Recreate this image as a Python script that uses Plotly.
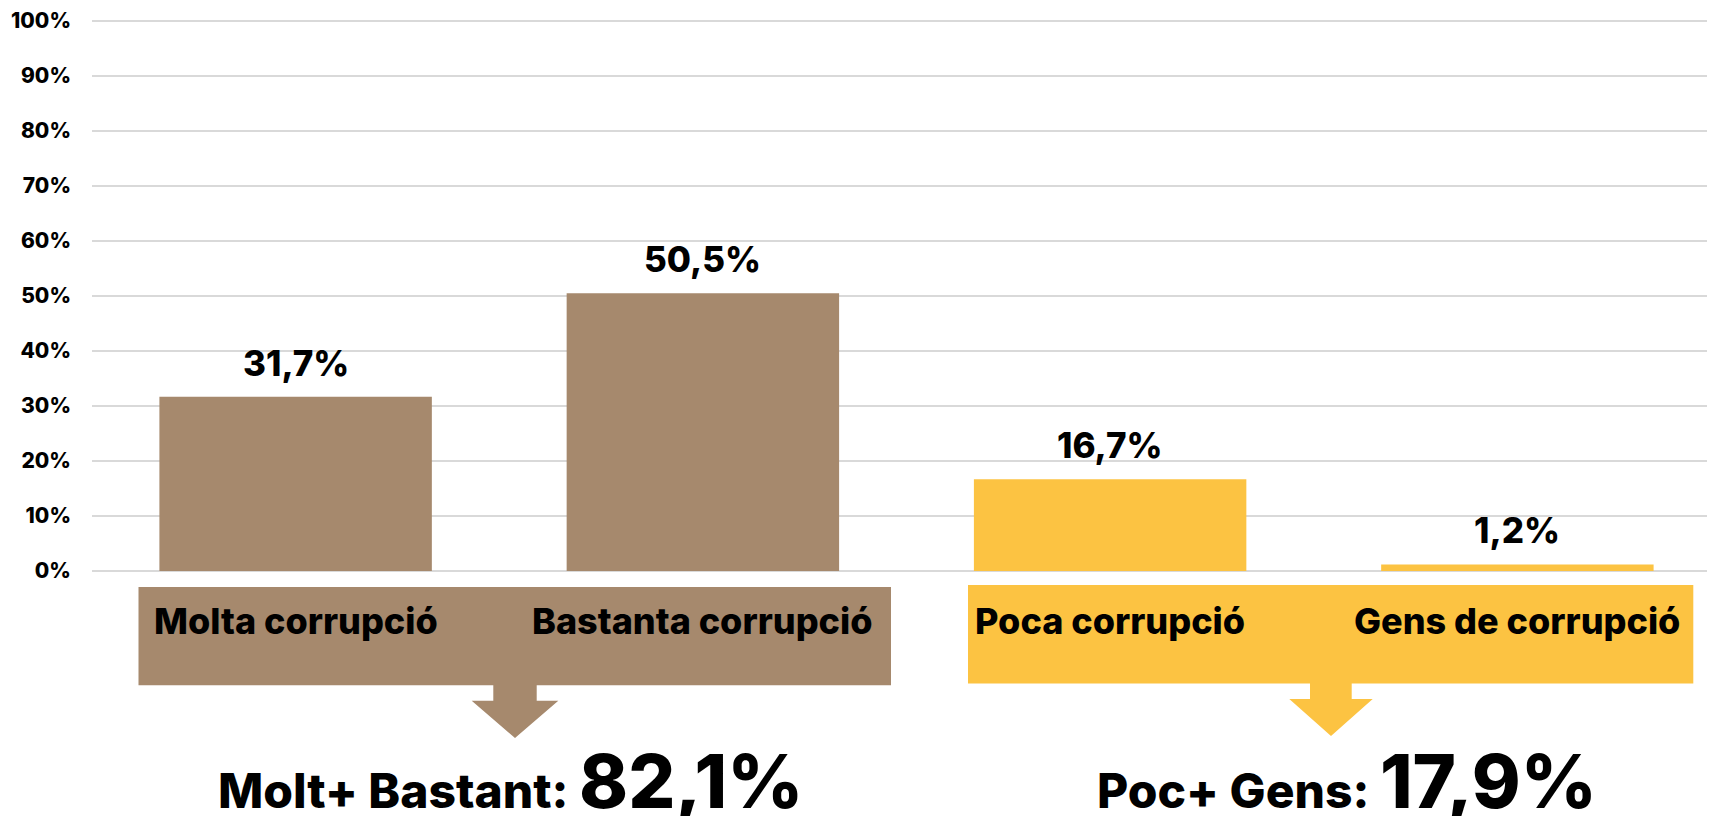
import plotly.graph_objects as go

# ---- data ----
categories = ["Molta corrupció", "Bastanta corrupció", "Poca corrupció", "Gens de corrupció"]
values = [31.7, 50.5, 16.7, 1.2]
group_labels = ["Molt+ Bastant:", "Poc+ Gens:"]
group_totals = [82.1, 17.9]
tick_values = [0, 10, 20, 30, 40, 50, 60, 70, 80, 90, 100]
tick_labels = [f"{v}%" for v in tick_values]

BROWN = "#A6896D"
YELLOW = "#FCC342"
bar_colors = [BROWN, BROWN, YELLOW, YELLOW]
FONT = "Inter, Lato, 'DejaVu Sans', sans-serif"

OFF = 8  # page body margin in the browser
W, H = 1715, 816
PX_PER_PCT = (571 - 17) / 100.0
Y_TOP = 100 + (17 - OFF) / PX_PER_PCT  # extend range so the 100% line sits inside
L, R, T, B = 92 - OFF, 2, 0, 816 - 571 + OFF
PW, PH = W - L - R, H - T - B


def px(xp):
    # xp given in page pixels
    return (xp - OFF - L) / PW


def py(yp):
    return (H - B - (yp - OFF)) / PH


def fmt(v):
    return f"{v:.1f}".replace(".", ",") + "%"


fig = go.Figure()
fig.add_trace(go.Bar(
    x=categories, y=values, marker=dict(color=bar_colors, line=dict(width=0)),
    hoverinfo="skip", showlegend=False,
))

annotations = []
# value labels above bars
for c, v in zip(categories, values):
    annotations.append(dict(
        x=c, y=v, xref="x", yref="y", text=fmt(v), showarrow=False,
        yanchor="middle", yshift=34,
        font=dict(family=FONT, size=35, color="black", weight=800),
    ))
# category labels inside boxes
for c in categories:
    annotations.append(dict(
        x=c, y=py(621), xref="x", yref="paper", text=c, showarrow=False,
        yanchor="middle", xanchor="center",
        font=dict(family=FONT, size=36, color="black", weight=800),
    ))

# boxes and arrows (page pixels)
boxes = [
    dict(x0=138.5, x1=891, y0=587, y1=686, color=BROWN,
         stem=(493.3, 536.7), head=(471.7, 558.3), head_y=701.7, tip=(515, 739.3)),
    dict(x0=968, x1=1693.3, y0=585, y1=684.3, color=YELLOW,
         stem=(1310, 1351.7), head=(1289.3, 1372.7), head_y=700, tip=(1331, 737.3)),
]
shapes = []
for bx in boxes:
    shapes.append(dict(type="rect", xref="paper", yref="paper",
                       x0=px(bx["x0"]), x1=px(bx["x1"]), y0=py(bx["y1"]), y1=py(bx["y0"]),
                       fillcolor=bx["color"], line=dict(width=0), layer="below"))
    s0, s1 = bx["stem"]
    h0, h1 = bx["head"]
    hy = bx["head_y"]
    tx, ty = bx["tip"]
    top = bx["y1"] - 1
    path = (f"M {px(s0)},{py(top)} L {px(s1)},{py(top)} L {px(s1)},{py(hy)} "
            f"L {px(h1)},{py(hy)} L {px(tx)},{py(ty)} L {px(h0)},{py(hy)} "
            f"L {px(s0)},{py(hy)} Z")
    shapes.append(dict(type="path", xref="paper", yref="paper", path=path,
                       fillcolor=bx["color"], line=dict(width=0), layer="below"))

# totals
total_centers = [510, 1347]
for lab, tot, cx in zip(group_labels, group_totals, total_centers):
    annotations.append(dict(
        x=px(cx), y=py(782), xref="paper", yref="paper", showarrow=False,
        xanchor="center", yanchor="middle",
        text=f"{lab} <span style='font-size:74px'>{fmt(tot)}</span>",
        font=dict(family=FONT, size=48, color="black", weight=800),
    ))

fig.update_layout(
    width=W, height=H,
    margin=dict(l=L, r=R, t=T, b=B, pad=0),
    paper_bgcolor="white", plot_bgcolor="white",
    bargap=0.331,
    shapes=shapes, annotations=annotations,
    xaxis=dict(showticklabels=False, showgrid=False, zeroline=False, showline=False,
               fixedrange=True),
    yaxis=dict(range=[0, Y_TOP], tickvals=tick_values, ticktext=tick_labels,
               showgrid=True, gridcolor="#D9D9D9", gridwidth=2,
               zeroline=True, zerolinecolor="#D9D9D9", zerolinewidth=2,
               showline=False, ticks="", ticklabelstandoff=20,
               ticklabeloverflow="allow",
               tickfont=dict(family=FONT, size=21, color="black", weight=800),
               fixedrange=True),
    showlegend=False,
)

fig.write_html("out.html")
